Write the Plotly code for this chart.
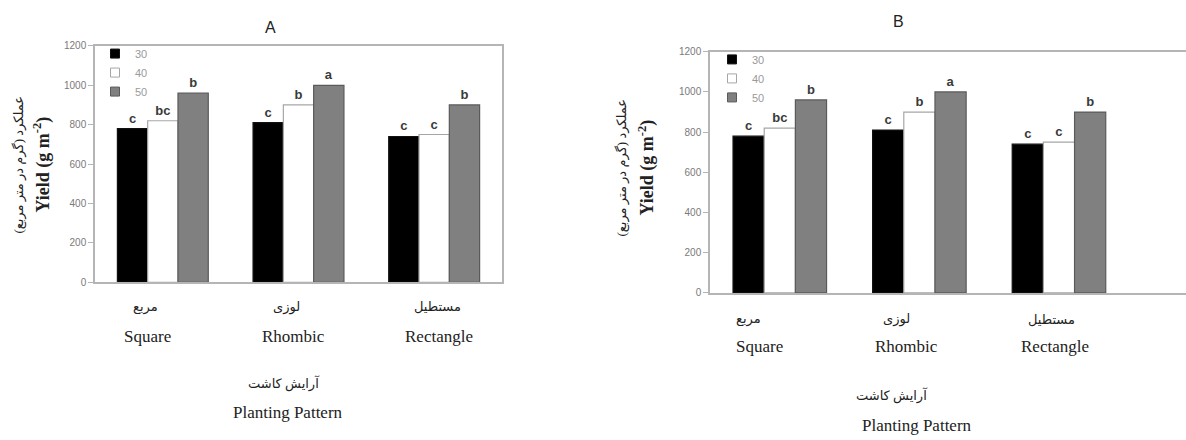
import plotly.graph_objects as go

W, H = 1186, 440

# Planting patterns (English and Persian names)
patterns = ["Square", "Rhombic", "Rectangle"]
patterns_fa = ["مربع", "لوزی", "مستطیل"]

# Series (plant spacing / density levels)
series_names = ["30", "40", "50"]
yield_30 = [780, 810, 740]
yield_40 = [820, 900, 750]
yield_50 = [960, 1000, 900]
letters_30 = ["c", "c", "c"]
letters_40 = ["bc", "b", "c"]
letters_50 = ["b", "a", "b"]

y_ticks = [0, 200, 400, 600, 800, 1000, 1200]

series_values = [yield_30, yield_40, yield_50]
series_letters = [letters_30, letters_40, letters_50]
fills = ["#000000", "#ffffff", "#808080"]
edges = ["#111111", "#a6a6a6", "#5a5a5a"]

AXIS_GREY = "#b5b5b5"
TICK_FONT = dict(family="Liberation Sans, Arial", size=10, color="#7a7a7a")
SERIF = "Liberation Serif, Times New Roman, DejaVu Serif, DejaVu Sans"


def px(x):
    return x / W


def py(y):
    return 1 - y / H


fig = go.Figure()

panels = [
    dict(xa="x", ya="y", legend="legend"),
    dict(xa="x2", ya="y2", legend="legend2"),
]

for p in panels:
    for name, vals, lets, fc, ec in zip(series_names, series_values, series_letters, fills, edges):
        fig.add_trace(go.Bar(
            x=patterns, y=vals, name=name,
            xaxis=p["xa"], yaxis=p["ya"], showlegend=False,
            marker=dict(color=fc, line=dict(color=ec, width=1.2)),
            text=lets, textposition="outside", cliponaxis=False,
            textfont=dict(family="Liberation Sans, Arial", size=13, color="#3a3a3a", weight="bold"),
        ))
    # small square legend keys
    for name, fc, ec in zip(series_names, fills, edges):
        fig.add_trace(go.Scatter(
            x=[None], y=[None], name=name, mode="markers",
            xaxis=p["xa"], yaxis=p["ya"], legend=p["legend"],
            marker=dict(symbol="square", size=9, color=fc, line=dict(color=ec, width=1)),
        ))

common_x = dict(
    type="category", showline=True, linecolor=AXIS_GREY, linewidth=1.5,
    showticklabels=False, ticks="", showgrid=False, zeroline=False, fixedrange=True,
)
common_y = dict(
    range=[0, 1200], tickvals=y_ticks, showline=True, linecolor=AXIS_GREY, linewidth=1.5,
    ticks="outside", ticklen=5, tickcolor=AXIS_GREY, tickfont=TICK_FONT,
    showgrid=False, zeroline=False, fixedrange=True,
)

legend_font = dict(family="Liberation Sans, Arial", size=11, color="#9a9a9a")

fig.update_layout(
    width=W, height=H,
    margin=dict(l=0, r=0, t=0, b=0),
    paper_bgcolor="white", plot_bgcolor="white",
    barmode="group", bargap=0.33, bargroupgap=0,
    showlegend=True,
    xaxis=dict(common_x, domain=[px(95), px(502)], anchor="y", mirror=True,
               categoryorder="array", categoryarray=patterns),
    yaxis=dict(common_y, domain=[py(284), py(41)], anchor="x", mirror=True),
    xaxis2=dict(common_x, domain=[px(710), 1.0], anchor="y2", mirror=True,
                categoryorder="array", categoryarray=patterns, range=[-0.5, 2.91]),
    yaxis2=dict(common_y, domain=[py(295), py(47)], anchor="x2", mirror=False),
    legend=dict(x=px(95), y=py(34), xanchor="left", yanchor="top", font=legend_font,
                bgcolor="rgba(0,0,0,0)", itemwidth=30, tracegroupgap=0),
    legend2=dict(x=px(712), y=py(40), xanchor="left", yanchor="top", font=legend_font,
                 bgcolor="rgba(0,0,0,0)", itemwidth=30, tracegroupgap=0),
)

annotations = []


def note(text, x, y, size, family=SERIF, xref="paper", xshift=0, angle=0, color="#222"):
    annotations.append(dict(
        text=text, x=x, y=y, xref=xref, yref="paper", xshift=xshift, textangle=angle,
        xanchor="center", yanchor="middle", showarrow=False,
        font=dict(family=family, size=size, color=color),
    ))


# Panel titles
note("A", px(270), py(22), 16, family="Liberation Sans, Arial")
note("B", px(898), py(16), 16, family="Liberation Sans, Arial")

# Category labels (Persian above English) under each panel
label_layout = [
    dict(xref="x", fa_y=309, en_y=340, fa_shift=[-17, -12, 3], en_shift=[-15, -5, 5]),
    dict(xref="x2", fa_y=322, en_y=350, fa_shift=[-31, -23, -7], en_shift=[-20, -13, -4]),
]
for lay in label_layout:
    for i, (en, fa) in enumerate(zip(patterns, patterns_fa)):
        note(fa, en, py(lay["fa_y"]), 13, xref=lay["xref"], xshift=lay["fa_shift"][i])
        note(en, en, py(lay["en_y"]), 17, xref=lay["xref"], xshift=lay["en_shift"][i])

# X axis titles
for cx_fa, cy_fa, cx_en, cy_en in [(284, 388, 288, 418), (892, 400, 917, 431)]:
    note("آرایش کاشت", px(cx_fa), py(cy_fa), 13)
    note("Planting Pattern", px(cx_en), py(cy_en), 17)

# Y axis titles (rotated)
for cx_fa, cx_en, cy in [(19, 42, 163), (622, 647, 166)]:
    note("عملکرد (گرم در متر مربع)", px(cx_fa), py(cy), 13, angle=-90)
    note("<b>Yield (g m<sup>-2</sup>)</b>", px(cx_en), py(cy), 18, angle=-90)

fig.update_layout(annotations=annotations)

fig.write_html("out.html")
